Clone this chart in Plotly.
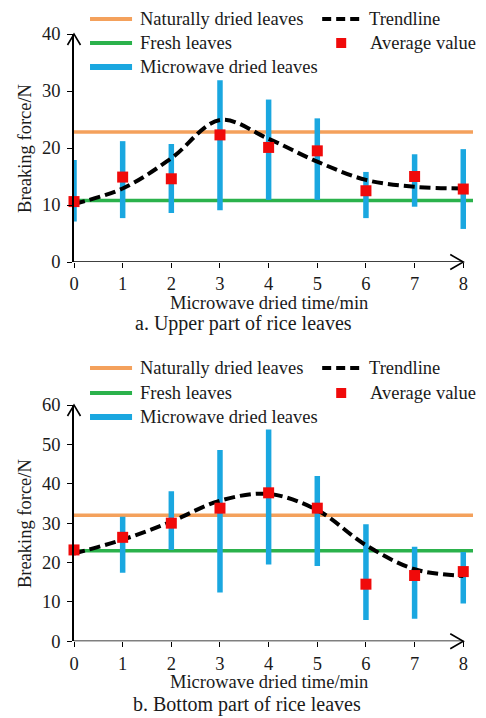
import plotly.graph_objects as go

# ---------------- data ----------------
time_min = [0, 1, 2, 3, 4, 5, 6, 7, 8]

# a. Upper part of rice leaves
upper_avg = [10.6, 14.9, 14.6, 22.3, 20.1, 19.5, 12.5, 15.0, 12.8]
upper_low = [7.1, 7.7, 8.6, 9.1, 10.9, 10.9, 7.7, 9.7, 5.8]
upper_high = [17.9, 21.2, 20.7, 31.9, 28.5, 25.2, 15.8, 18.9, 19.8]
upper_trend = [10.2, 12.9, 18.2, 24.9, 21.6, 17.6, 14.4, 13.2, 12.9]
upper_natural = 22.8
upper_fresh = 10.8

# b. Bottom part of rice leaves
bottom_avg = [23.2, 26.4, 30.0, 33.8, 37.7, 33.8, 14.5, 16.7, 17.7]
bottom_low = [23.2, 17.4, 23.2, 12.4, 19.5, 19.1, 5.4, 5.7, 9.6]
bottom_high = [23.2, 31.6, 38.1, 48.6, 53.8, 42.0, 29.7, 24.0, 22.7]
bottom_trend = [22.3, 25.8, 30.4, 35.7, 37.4, 33.3, 24.4, 18.3, 16.6]
bottom_natural = 32.0
bottom_fresh = 23.0

upper_yticks = [0, 10, 20, 30, 40]
bottom_yticks = [0, 10, 20, 30, 40, 50, 60]

legend_names = ["Naturally dried leaves", "Fresh leaves", "Microwave dried leaves",
                "Trendline", "Average value"]
captions = ["a. Upper part of rice leaves", "b. Bottom part of rice leaves"]
x_title = "Microwave dried time/min"
y_title = "Breaking force/N"

# ---------------- style ----------------
OFF = 8                      # page body margin in the browser
W, H = 486 - OFF, 718 - OFF
AXL = 74                     # window x of the y axis
AXR = 472.7                  # window x of right plot edge (x = 8.2)
ML = AXL - OFF
MR = W - (AXR - OFF)
PW = W - ML - MR
FONT = "Liberation Serif"
TXT = "#1a1a1a"
ORANGE = "#f4a15c"
GREEN = "#2bb24c"
BLUE = "#1aa7e0"
RED = "#f00a0a"


def PX(px):
    """window pixel x -> paper fraction"""
    return (px - OFF - ML) / PW


def PY(py):
    """window pixel y -> paper fraction"""
    return 1 - (py - OFF) / H


fig = go.Figure()

panels = [
    dict(avg=upper_avg, lo=upper_low, hi=upper_high, trend=upper_trend,
         nat=upper_natural, fresh=upper_fresh, ticks=upper_yticks,
         top=34, bot=262, xa="x", ya="y", legend_rows=[19, 43, 67],
         xtitle_y=303, cap_y=323, cap_anchor="middle", cap_x=243),
    dict(avg=bottom_avg, lo=bottom_low, hi=bottom_high, trend=bottom_trend,
         nat=bottom_natural, fresh=bottom_fresh, ticks=bottom_yticks,
         top=405, bot=641.3, xa="x2", ya="y2", legend_rows=[368, 393, 417],
         xtitle_y=682, cap_y=718, cap_anchor="bottom", cap_x=247),
]

shapes = []
annotations = []

for i, p in enumerate(panels):
    xa, ya = p["xa"], p["ya"]
    # horizontal reference lines
    fig.add_trace(go.Scatter(x=[0, 8.2], y=[p["nat"], p["nat"]], mode="lines",
                             line=dict(color=ORANGE, width=3.5), xaxis=xa, yaxis=ya,
                             showlegend=False, hoverinfo="skip"))
    fig.add_trace(go.Scatter(x=[0, 8.2], y=[p["fresh"], p["fresh"]], mode="lines",
                             line=dict(color=GREEN, width=3.5), xaxis=xa, yaxis=ya,
                             showlegend=False, hoverinfo="skip"))
    # range bars
    bx, by = [], []
    for t, lo, hi in zip(time_min, p["lo"], p["hi"]):
        bx += [t, t, None]
        by += [lo, hi, None]
    fig.add_trace(go.Scatter(x=bx, y=by, mode="lines",
                             line=dict(color=BLUE, width=5.5), xaxis=xa, yaxis=ya,
                             showlegend=False, hoverinfo="skip", cliponaxis=False))
    # trendline
    fig.add_trace(go.Scatter(x=time_min, y=p["trend"], mode="lines",
                             line=dict(color="black", width=4, dash="11px,5px", shape="spline"),
                             xaxis=xa, yaxis=ya, showlegend=False, hoverinfo="skip"))
    # averages
    fig.add_trace(go.Scatter(x=time_min, y=p["avg"], mode="markers",
                             marker=dict(symbol="square", size=11, color=RED),
                             xaxis=xa, yaxis=ya, showlegend=False, cliponaxis=False))

    # x axis line + arrow
    shapes.append(dict(type="line", xref=xa, yref=ya, x0=0, x1=8, y0=0, y1=0,
                       line=dict(color="black", width=1.6)))
    tipx = AXL + 8 * (AXR - AXL) / 8.2
    tipy = p["bot"]
    shapes.append(dict(type="path", xref="paper", yref="paper",
                       path=f"M {PX(tipx-13)},{PY(tipy-7.5)} L {PX(tipx)},{PY(tipy)} L {PX(tipx-13)},{PY(tipy+7.5)}",
                       line=dict(color="black", width=1.6)))
    # y axis arrow
    ty = p["top"]
    shapes.append(dict(type="path", xref="paper", yref="paper",
                       path=f"M {PX(AXL-6.5)},{PY(ty+11)} L {PX(AXL)},{PY(ty)} L {PX(AXL+6.5)},{PY(ty+11)}",
                       line=dict(color="black", width=1.6)))

    # legend
    r1, r2, r3 = p["legend_rows"]
    shapes.append(dict(type="line", xref="paper", yref="paper", x0=PX(90), x1=PX(132),
                       y0=PY(r1), y1=PY(r1), line=dict(color=ORANGE, width=4)))
    shapes.append(dict(type="line", xref="paper", yref="paper", x0=PX(90), x1=PX(132),
                       y0=PY(r2), y1=PY(r2), line=dict(color=GREEN, width=4)))
    shapes.append(dict(type="line", xref="paper", yref="paper", x0=PX(90), x1=PX(132),
                       y0=PY(r3), y1=PY(r3), line=dict(color=BLUE, width=6)))
    shapes.append(dict(type="line", xref="paper", yref="paper", x0=PX(322), x1=PX(362),
                       y0=PY(r1), y1=PY(r1), line=dict(color="black", width=4, dash="9px,5px")))
    shapes.append(dict(type="rect", xref="paper", yref="paper", x0=PX(336), x1=PX(346),
                       y0=PY(r2 + 5), y1=PY(r2 - 5), line=dict(width=0), fillcolor=RED))
    for name, lx, ly in [(legend_names[0], 138, r1), (legend_names[1], 138, r2),
                         (legend_names[2], 138, r3), (legend_names[3], 367, r1),
                         (legend_names[4], 368, r2)]:
        annotations.append(dict(text=name, xref="paper", yref="paper", x=PX(lx), y=PY(ly),
                                xanchor="left", yanchor="middle", showarrow=False,
                                font=dict(family=FONT, size=18.5, color=TXT)))
    # axis titles
    annotations.append(dict(text=x_title, xref="paper", yref="paper", x=PX(268.5),
                            y=PY(p["xtitle_y"]), xanchor="center", yanchor="middle",
                            showarrow=False, font=dict(family=FONT, size=18.5, color=TXT)))
    annotations.append(dict(text=y_title, xref="paper", yref="paper", x=PX(25),
                            y=PY((p["top"] + p["bot"]) / 2), xanchor="center", yanchor="middle",
                            textangle=-90, showarrow=False,
                            font=dict(family=FONT, size=18.5, color=TXT)))
    annotations.append(dict(text=captions[i], xref="paper", yref="paper", x=PX(p["cap_x"]),
                            y=PY(p["cap_y"]), xanchor="center", yanchor=p["cap_anchor"],
                            showarrow=False, font=dict(family=FONT, size=20, color=TXT)))

axis_common = dict(showgrid=False, zeroline=False, ticks="outside", ticklen=5,
                   tickwidth=1.4, tickcolor="black",
                   tickfont=dict(family=FONT, size=18.5, color=TXT), automargin=False)

fig.update_layout(
    width=W, height=H,
    margin=dict(l=ML, r=MR, t=0, b=0),
    paper_bgcolor="white", plot_bgcolor="white",
    showlegend=False,
    xaxis=dict(domain=[0, 1], range=[0, 8.2], tickvals=time_min, showline=False,
               anchor="y", **axis_common),
    yaxis=dict(domain=[PY(262), PY(34)], range=[0, 40], tickvals=upper_yticks,
               showline=True, linecolor="black", linewidth=1.6, anchor="x",
               ticklabelstandoff=3, **axis_common),
    xaxis2=dict(domain=[0, 1], range=[0, 8.2], tickvals=time_min, showline=False,
                anchor="y2", **axis_common),
    yaxis2=dict(domain=[PY(641.3), PY(405)], range=[0, 60], tickvals=bottom_yticks,
                showline=True, linecolor="black", linewidth=1.6, anchor="x2",
                ticklabelstandoff=3, **axis_common),
    shapes=shapes,
    annotations=annotations,
)

fig.write_html("out.html")
